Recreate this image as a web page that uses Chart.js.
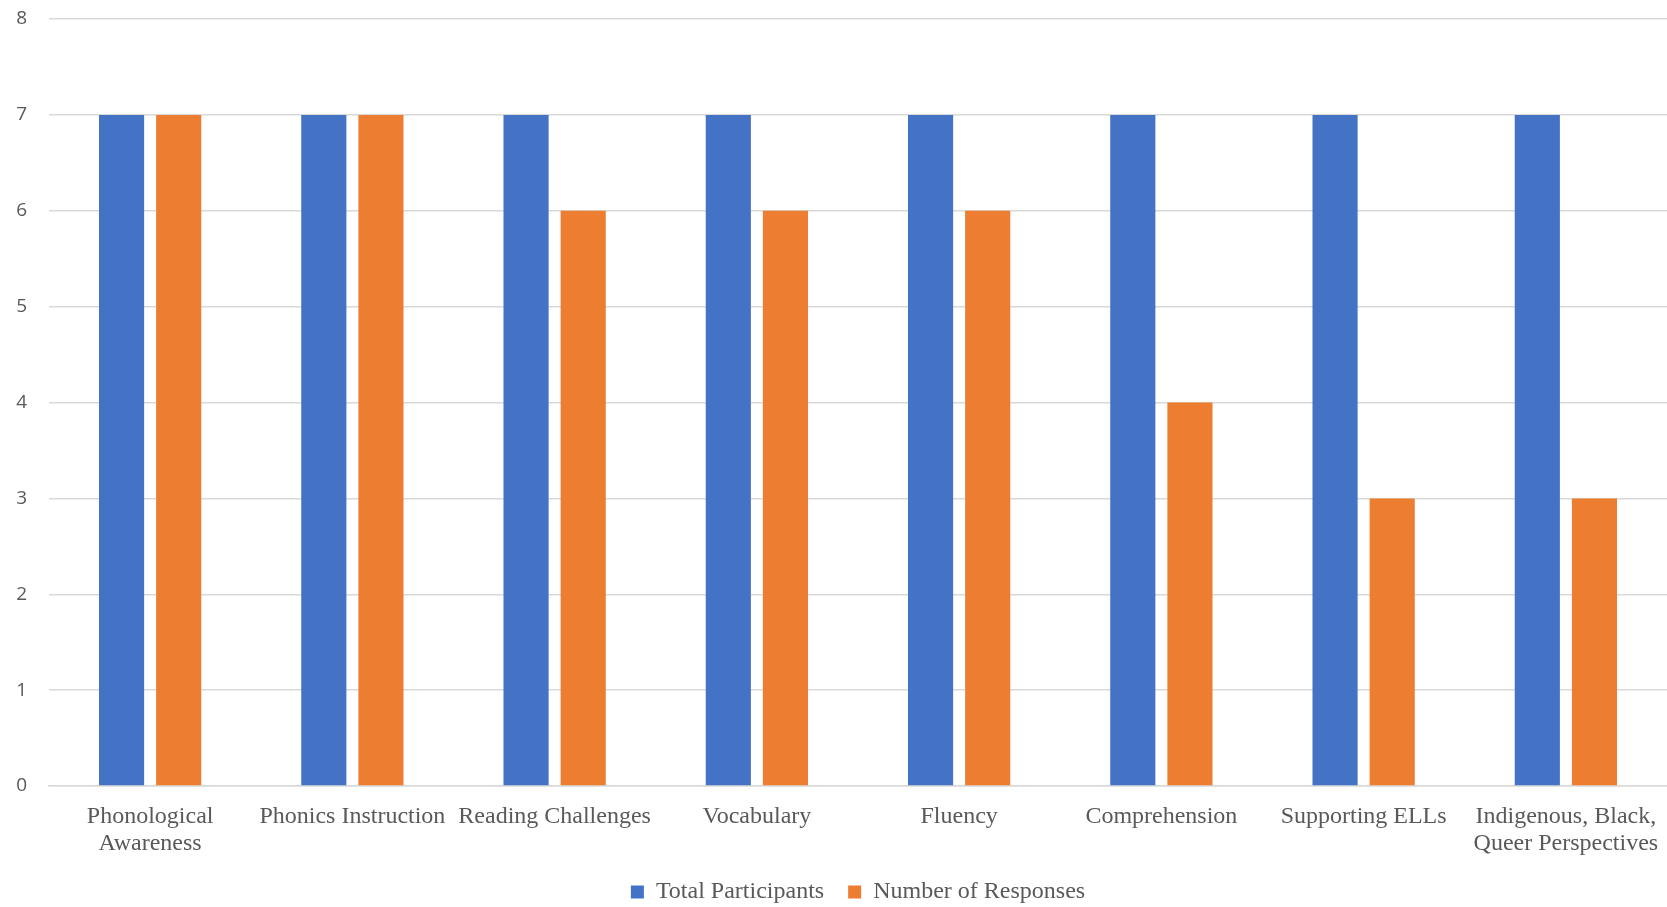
<!DOCTYPE html>
<html>
<head>
<meta charset="utf-8">
<script src="https://cdn.jsdelivr.net/npm/chart.js@4/dist/chart.umd.min.js"></script>
<style>
  html, body { margin: 0; padding: 0; background: white; }
  #wrap { width: 1667px; height: 907px; }
</style>
</head>
<body>
<div id="wrap"><canvas id="myChart" width="1667" height="907"></canvas></div>
<script>
const categories = [
  ['Phonological', 'Awareness'],
  'Phonics Instruction',
  'Reading Challenges',
  'Vocabulary',
  'Fluency',
  'Comprehension',
  'Supporting ELLs',
  ['Indigenous, Black,', 'Queer Perspectives']
];
const totalParticipants = [7, 7, 7, 7, 7, 7, 7, 7];
const numberOfResponses = [7, 7, 6, 6, 6, 4, 3, 3];

const textGrey = '#595959';
const gridGrey = '#D9D9D9';

const ctx = document.getElementById('myChart').getContext('2d');
new Chart(ctx, {
  type: 'bar',
  data: {
    labels: categories,
    datasets: [
      {
        label: 'Total Participants',
        data: totalParticipants,
        backgroundColor: '#4472C4',
        categoryPercentage: 0.565,
        barPercentage: 0.79
      },
      {
        label: 'Number of Responses',
        data: numberOfResponses,
        backgroundColor: '#ED7D31',
        categoryPercentage: 0.565,
        barPercentage: 0.79
      }
    ]
  },
  options: {
    responsive: false,
    animation: false,
    layout: { padding: { top: 19, right: 0, left: 0, bottom: -7 } },
    plugins: {
      tooltip: { enabled: false },
      legend: {
        position: 'bottom',
        fullSize: false,
        labels: {
          color: textGrey,
          font: { family: 'Liberation Serif', size: 24 },
          boxWidth: 13,
          boxHeight: 13,
          padding: 24
        }
      }
    },
    scales: {
      x: {
        grid: { display: false, drawTicks: false },
        border: { color: gridGrey, width: 1.5 },
        ticks: {
          color: textGrey,
          font: { family: 'Liberation Serif', size: 24, lineHeight: 1.1 },
          padding: 18,
          autoSkip: false,
          maxRotation: 0,
          minRotation: 0
        },
        afterFit: function (scale) {
          scale.height = 70;
          scale.paddingLeft = 0;
          scale.paddingRight = 0;
        }
      },
      y: {
        min: 0,
        max: 8,
        grid: { color: gridGrey, lineWidth: 1.5, drawTicks: false },
        border: { display: false },
        ticks: {
          stepSize: 1,
          color: textGrey,
          font: { family: 'Open Sans', size: 19 },
          padding: 22
        },
        afterFit: function (scale) {
          scale.width = 49;
          scale.paddingTop = 0;
          scale.paddingBottom = 0;
        }
      }
    }
  }
});
</script>
</body>
</html>
